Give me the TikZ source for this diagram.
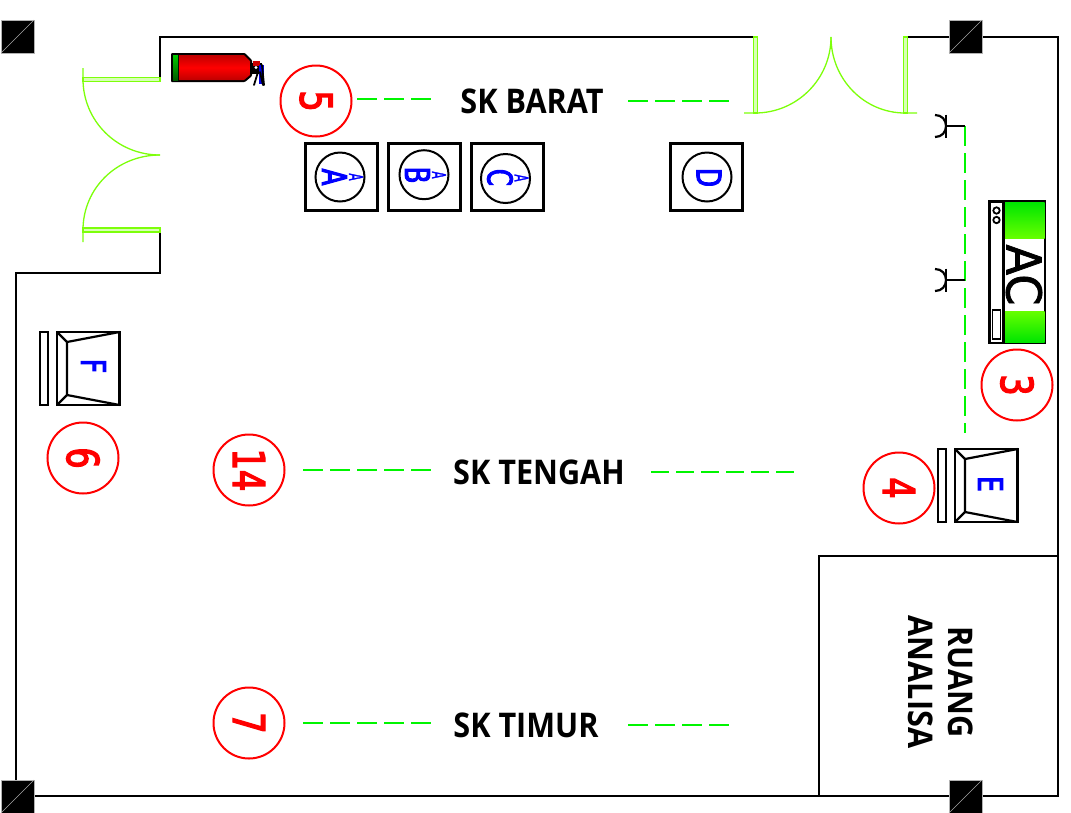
\documentclass[tikz,border=0pt]{standalone}
\usepackage{fontspec}
\setmainfont{Open Sans}
\newfontfamily\numfont[FakeStretch=.76,FakeBold=3]{DejaVu Sans}
\newfontfamily\letfont[FakeStretch=.72,FakeBold=3]{DejaVu Sans}
\newfontfamily\smfont[FakeStretch=.55,FakeBold=1.5]{DejaVu Sans}
\newfontfamily\acfont[FakeStretch=.93,FakeBold=1.5]{DejaVu Sans}
\newfontfamily\lblfont[FakeStretch=.9]{Open Sans}
\definecolor{doorg}{RGB}{125,255,10}
\definecolor{wireg}{RGB}{0,245,0}
\tikzset{
  wall/.style={draw=black,line width=2.9pt,line join=miter},
  thin wall/.style={draw=black,line width=2.3pt},
  pillar/.style={fill=black,draw=gray!60,line width=.6pt},
  door/.style={draw=doorg,line width=1.3pt},
  panel/.style={draw=doorg,line width=1.4pt,fill=doorg!30},
  wire/.style={draw=wireg,line width=2.1pt,dash pattern=on 20pt off 7pt},
  badge/.style={circle,draw=red,line width=2pt,minimum size=71pt,inner sep=0pt,text=red,font=\numfont\fontsize{44}{44}\selectfont,rotate=-90},
  lbl/.style={text=black,font=\lblfont\bfseries\fontsize{34}{34}\selectfont,inner sep=0pt},
  box/.style={draw=black,line width=2.2pt},
  ring/.style={circle,draw=black,line width=2pt,minimum size=49pt,inner sep=0pt},
  big/.style={text=blue,font=\letfont\fontsize{34}{34}\selectfont,rotate=-90,inner sep=0pt},
  small/.style={text=blue,font=\smfont\fontsize{19}{19}\selectfont,rotate=-90,inner sep=0pt},
}
\begin{document}
\begin{tikzpicture}[x=1pt,y=-1pt]
\useasboundingbox (0,0) rectangle (1071,812);
% walls
\draw[wall] (160,79) -- (160,37) -- (755,37);
\draw[wall] (905,37) -- (1058,37) -- (1058,796) -- (16,796) -- (16,273) -- (160,273) -- (160,230);
\draw[thin wall] (1058,556) -- (819,556) -- (819,796);
% pillars
\foreach \x/\y in {1/20,949/20,1/780,949/780}{
  \filldraw[pillar] (\x,\y) rectangle +(33,33);
  \draw[gray!70,line width=.5pt] (\x,\y+33) -- +(33,-33);
}
% doors
\filldraw[panel] (83,77.5) rectangle (160,81.5);
\filldraw[panel] (83,228) rectangle (160,232);
\draw[door] (83,68) -- (83,79) .. controls (83,121) and (117,155) .. (160,155);
\draw[door] (83,242) -- (83,230) .. controls (83,188) and (117,155) .. (160,155);
\filldraw[panel] (753.5,37) rectangle (757.5,113);
\filldraw[panel] (903.5,37) rectangle (907.5,113);
\draw[door] (744,113) -- (755,113) .. controls (797,113) and (831,79) .. (831,37);
\draw[door] (917,113) -- (905,113) .. controls (864,113) and (831,79) .. (831,37);
% extinguisher
\fill[black,rounded corners=1pt] (171,53) -- (245,53) -- (252,60) -- (252,76) -- (245,82) -- (171,82) -- cycle;
\shade[top color=red!75!black,bottom color=red!75!black,middle color=red] (179,55) -- (244,55) -- (250,61) -- (250,75) -- (244,80) -- (179,80) -- cycle;
\shade[top color=green!80!black,bottom color=green!35!black] (173,55) rectangle (178,80);
\fill[black] (250,63) rectangle (262,74);
\fill[red!80!black] (253,61) rectangle (260,66);
\fill[blue!90!black] (259,65) rectangle (264,84);
\draw[black,line width=1.8pt,line cap=round] (258,72) -- (254,85) (260,72) -- (263,85) (262,65) -- (264,85);
\fill[white] (256,67.5) circle (1.6pt);
% badges
\node[badge] (n5) at (316,101) {5};
\node[badge] (n3) at (1017,385) {3};
\node[badge] (n4) at (899,488) {4};
\node[badge] (n6) at (83,458) {6};
\node[badge] (n14) at (249,470) {14};
\node[badge] (n7) at (249,723) {7};
% labels
\node[lbl] (barat) at (532,101) {SK BARAT};
\node[lbl] (tengah) at (539,472) {SK TENGAH};
\node[lbl] (timur) at (526,725) {SK TIMUR};
\node[lbl,rotate=-90,align=center,font=\lblfont\bfseries\fontsize{34}{40}\selectfont] (ruang) at (941,682) {RUANG\\ANALISA};
% wires
\coordinate (w1) at (357,99); \coordinate (w2) at (431,99);
\coordinate (w3) at (628,101); \coordinate (w4) at (730,101);
\coordinate (w5) at (303,470); \coordinate (w6) at (431,470);
\coordinate (w7) at (651,472); \coordinate (w8) at (794,472);
\coordinate (w9) at (303,723); \coordinate (w10) at (431,723);
\coordinate (w11) at (628,725); \coordinate (w12) at (730,725);
\coordinate (w13) at (965,126); \coordinate (w14) at (965,433);
\draw[wire] (w1) -- (w2);
\draw[wire] (w3) -- (w4);
\draw[wire] (w5) -- (w6);
\draw[wire,dash pattern=on 18pt off 7pt] (w7) -- (w8);
\draw[wire] (w9) -- (w10);
\draw[wire] (w11) -- (w12);
\draw[wire] (w13) -- (w14);
% boxes
\foreach \x in {305.5,388.5,471.5,670.5}{\draw[box] (\x,143.5) rectangle +(72,67);}
\node[ring] (ra) at (340,177) {};
\node[ring] (rb) at (424,174.7) {};
\node[ring] (rc) at (505.5,178.5) {};
\node[ring] (rd) at (707,177) {};
\node[big] (la) at (334.5,177) {A};
\node[small] (sa) at (356,177) {A};
\node[big] (lb) at (417.5,175) {B};
\node[small] (sb) at (439,175) {A};
\node[big] (lc) at (500,177.5) {C};
\node[small] (sc) at (521.5,178) {A};
\node[big] (ld) at (709,177.5) {D};
% sockets
\foreach \y in {126,280}{
  \draw[black,line width=2.2pt] (965,\y) -- (946,\y);
  \draw[black,line width=2.2pt] (946,\y-11.5) -- (946,\y+11.5);
  \draw[black,line width=2.2pt] (935,\y-11) .. controls (942,\y-11) and (946,\y-6) .. (946,\y) .. controls (946,\y+6) and (942,\y+11) .. (935,\y+11);
}
% AC
\draw[box,fill=white] (989.5,201.5) rectangle (1045,343);
\shade[top color=green!90!black,bottom color=green!60!yellow] (1004,202.5) rectangle (1044.5,238);
\shade[top color=green!60!yellow,bottom color=green!90!black] (1004,311) rectangle (1044.5,342);
\draw[box] (1003.5,201.5) -- (1003.5,343);
\draw[black,line width=1.8pt] (996.5,210.5) circle (3.2pt) (996.5,220) circle (3.2pt);
\draw[black,line width=1.8pt] (992.5,310) rectangle (1000.5,339);
\node[rotate=-90,inner sep=0pt,font=\acfont\fontsize{48}{48}\selectfont] (ac) at (1024,275) {AC};
% E and F
\foreach \x/\y/\n in {938/449/E,40/332/F}{
  \draw[box] (\x,\y) rectangle +(8,73);
  \draw[box] (\x+17,\y) rectangle +(62.5,73);
  \draw[box] (\x+17,\y) -- (\x+27,\y+10) -- (\x+27,\y+63) -- (\x+17,\y+73);
  \draw[box] (\x+27,\y+10) -- (\x+79.5,\y);
  \draw[box] (\x+27,\y+63) -- (\x+79.5,\y+73);
}
\node[big] (le) at (990.5,484) {E};
\node[big] (lf) at (93.5,366) {F};
\end{tikzpicture}
\end{document}
